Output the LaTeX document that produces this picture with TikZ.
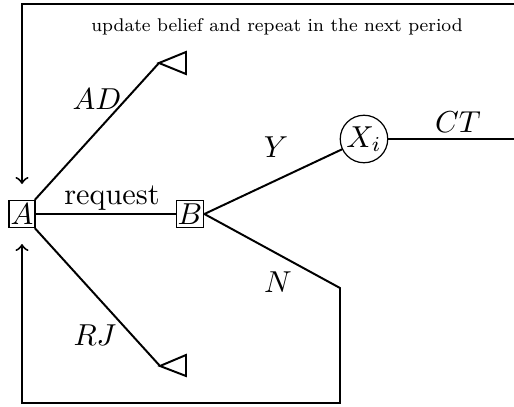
\documentclass[tikz,border=0pt]{standalone}
\usepackage{graphicx}
\begin{document}
\begin{tikzpicture}[x=0.33pt,y=-0.33pt,
  every path/.style={line width=0.65pt},
  boxnode/.style={draw,line width=0.4pt,inner sep=0.5pt,minimum width=8.6pt,minimum height=8.9pt},
  chance/.style={draw,circle,line width=0.4pt,inner sep=0.5pt,minimum size=14.5pt},
  lbl/.style={inner sep=0pt},
  endtri/.style={line width=0.65pt,line join=miter}]
\useasboundingbox (0,0) rectangle (514,407);
\node[boxnode] (A) at (22,214) {$A$};
\node[boxnode] (B) at (190,214) {$B$};
\node[chance] (X) at (364,139) {$X_i$};
\coordinate (ad) at (159,63);
\coordinate (rj) at (160,366);
\coordinate (nb) at (340,288);
\coordinate (nc) at (340,403);
\coordinate (bl) at (22,403);
\coordinate (up) at (22,244);
\coordinate (tr) at (514,4);
\coordinate (tl) at (22,4);
\coordinate (down) at (22,184);
\coordinate (ct) at (514,139);
% branches
\draw (A) -- (B);
\draw (A) -- (ad);
\draw (A) -- (rj);
\draw[endtri] (ad) -- (186,52) -- (186,74) -- cycle;
\draw[endtri] (rj) -- (186,355) -- (186,376) -- cycle;
\draw (B.east) -- (X);
\draw (X) -- (ct);
\draw[->] (B.east) -- (nb) -- (nc) -- (bl) -- (up);
\draw[->] (tr) -- (tl) -- (down);
% labels
\node[lbl] at (112,198) {request};
\node[lbl] at (97,99) {$AD$};
\node[lbl] at (95,335) {$RJ$};
\node[lbl] at (276,147) {$Y$};
\node[lbl] at (278,282) {$N$};
\node[lbl] at (458,122) {$CT$};
\node[lbl] at (277,27) {\scalebox{0.76}{\fontsize{8}{9}\selectfont update belief and repeat in the next period}};
\end{tikzpicture}
\end{document}
